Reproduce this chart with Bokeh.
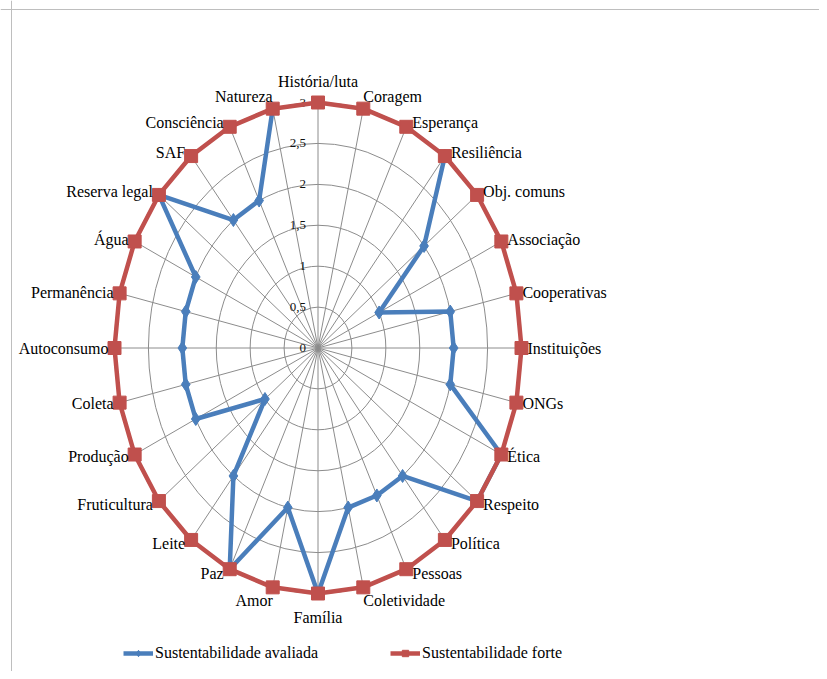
import numpy as np
from bokeh.plotting import figure
from bokeh.models import Range1d, Span, Legend, LegendItem, ColumnDataSource
from bokeh.embed import file_html
from bokeh.resources import INLINE
from bokeh.core.properties import value

categories = ["História/luta", "Coragem", "Esperança", "Resiliência", "Obj. comuns",
              "Associação", "Cooperativas", "Instituições", "ONGs", "Ética", "Respeito",
              "Política", "Pessoas", "Coletividade", "Família", "Amor", "Paz", "Leite",
              "Fruticultura", "Produção", "Coleta", "Autoconsumo", "Permanência", "Água",
              "Reserva legal", "SAF", "Consciência", "Natureza"]
avaliada = [None, None, None, 3, 2, 1, 2, 2, 2, 3, 3, 2, 2, 2, 3, 2, 3, 2, 1, 2, 2, 2, 2, 2,
            3, 2, 2, 3]
forte = [3, 3, 3, 3, 3, 3, 3, 3, 3, 3, 3, 3, 3, 3, 3, 3, 3, 3, 3, 3, 3, 3, 3, 3, 3, 3, 3, 3]
tick_values = [0, 0.5, 1, 1.5, 2, 2.5, 3]
tick_labels = ["0", "0,5", "1", "1,5", "2", "2,5", "3"]

BLUE = "#4A7EBB"
RED = "#C0504D"
GRID = "#8C8C8C"
FONT = "Liberation Serif"

W, H = 819, 671
cx, cy = 317.5, 347.5          # centre of the radar in canvas pixels
sx, sy = 203.5 / 3, 245.5 / 3  # pixels per unit, horizontal / vertical

xr = Range1d(-cx / sx, (W - cx) / sx)
yr = Range1d(-(H - cy) / sy, cy / sy)

p = figure(width=W, height=H, output_backend="svg", toolbar_location=None,
           x_range=xr, y_range=yr, x_axis_location=None, y_axis_location=None,
           min_border=0, background_fill_color="white", border_fill_color="white")
p.grid.visible = False
p.outline_line_color = None

# frame lines (top and left)
p.add_layout(Span(location=yr.end - 9 / sy, dimension="width", line_color="#BEBEBE", line_width=1))
p.add_layout(Span(location=xr.start + 11 / sx, dimension="height", line_color="#BEBEBE", line_width=1))

n = len(categories)
theta = np.arange(n) * 2 * np.pi / n
s, c = np.sin(theta), np.cos(theta)
rmax = max(tick_values)

# grid rings
levels = [v for v in tick_values if v > 0]
p.ellipse(x=[0] * len(levels), y=[0] * len(levels), width=[2 * v for v in levels],
          height=[2 * v for v in levels], fill_color=None, line_color=GRID, line_width=1)
# spokes
p.segment(x0=np.zeros(n), y0=np.zeros(n), x1=rmax * s, y1=rmax * c, line_color=GRID, line_width=1)

# tick labels on the vertical spoke
p.text(x=[0] * len(tick_values), y=tick_values, text=tick_labels, x_offset=-12,
       text_align="right", text_baseline="middle", text_font=value(FONT),
       text_font_size="13px", text_color="#111111")

# series: evaluated
av = np.array([np.nan if v is None else v for v in avaliada], dtype=float)
bsrc = ColumnDataSource(dict(x=av * s, y=av * c))
bl = p.line("x", "y", source=bsrc, line_color=BLUE, line_width=4.5, line_join="round")
bm = p.scatter("x", "y", source=bsrc, marker="diamond", size=13, fill_color=BLUE, line_color=BLUE)

# series: strong
fv = np.array(forte, dtype=float)
fx = list(fv * s) + [fv[0] * s[0]]
fy = list(fv * c) + [fv[0] * c[0]]
rl = p.line(fx, fy, line_color=RED, line_width=4.5, line_join="round")
rm = p.scatter(fv * s, fv * c, marker="square", size=13, fill_color=RED, line_color=RED)

# category labels
for i, name in enumerate(categories):
    xi, yi = forte[i] * s[i], forte[i] * c[i]
    if abs(s[i]) < 1e-6:
        align = "center"
        xo = 0
        if c[i] > 0:
            base, yo = "bottom", -13
        else:
            base, yo = "top", 15
    else:
        align = "left" if s[i] > 0 else "right"
        base = "middle"
        if abs(c[i]) > 0.97:
            xo = 0
            yo = -12 if c[i] > 0 else 13
        else:
            xo = 6 if s[i] > 0 else -6
            yo = -5 * c[i]
    p.text(x=[xi], y=[yi], text=[name], x_offset=xo, y_offset=yo, text_align=align,
           text_baseline=base, text_font=value(FONT), text_font_size="16px",
           text_color="black")

legend = Legend(items=[LegendItem(label="Sustentabilidade avaliada", renderers=[bl, bm]),
                       LegendItem(label="Sustentabilidade forte", renderers=[rl, rm])],
                location=(123, 9), orientation="horizontal", padding=0, margin=0,
                spacing=72, glyph_width=30, glyph_height=16, label_height=16,
                label_standoff=2, label_text_font=FONT, label_text_font_size="16px",
                label_text_color="black", border_line_color=None,
                background_fill_alpha=0)
p.add_layout(legend, "center")

open("out.html", "w").write(file_html(p, INLINE))
